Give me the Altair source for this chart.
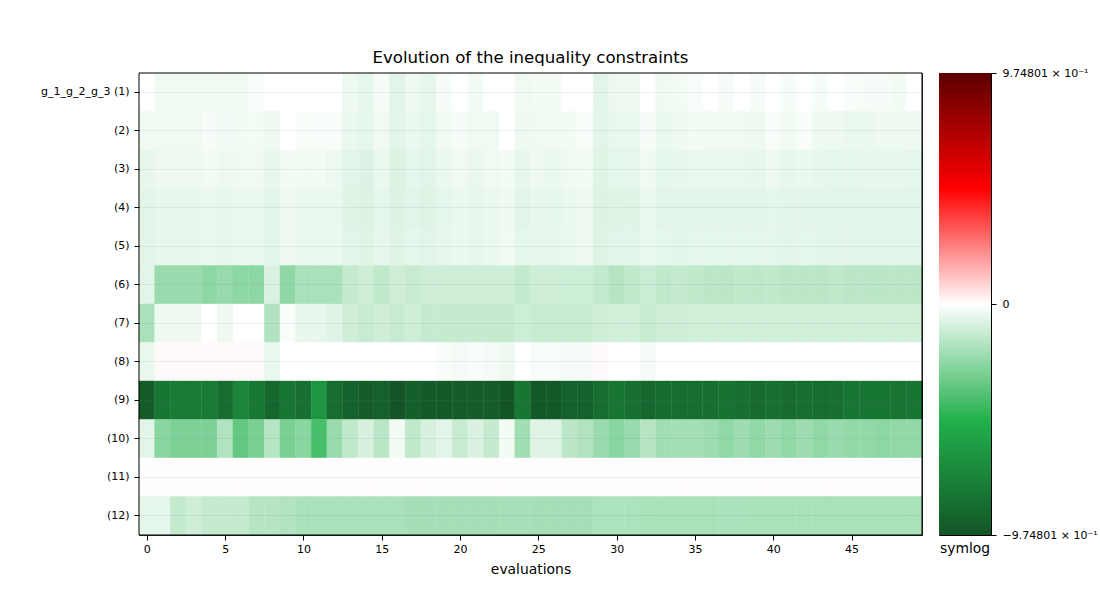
import altair as alt
import pandas as pd

ROW_LABELS = ["g_1_g_2_g_3 (1)", "(2)", "(3)", "(4)", "(5)", "(6)", "(7)", "(8)",
              "(9)", "(10)", "(11)", "(12)"]
EVALUATIONS = list(range(50))
X_TICKS = [0, 5, 10, 15, 20, 25, 30, 35, 40, 45]

ROW_1 = [0, -0.034, -0.034, -0.034, -0.034, -0.034, -0.034, -0.015, 0, 0,
         0, 0, 0, -0.038, -0.05, -0.02, -0.063, -0.038, -0.05, -0.02,
         0, -0.027, 0, 0, -0.034, -0.027, -0.027, 0, 0, -0.063,
         -0.04, -0.04, 0, -0.034, -0.027, -0.015, 0, -0.02, 0, -0.02,
         0, -0.02, 0, -0.02, 0, -0.015, -0.02, -0.02, -0.027, 0]
ROW_2 = [-0.034, -0.034, -0.034, -0.034, -0.02, -0.03, -0.027, -0.027, -0.038, 0,
         -0.015, -0.015, -0.015, -0.045, -0.057, -0.034, -0.063, -0.045, -0.057, -0.034,
         -0.02, -0.034, -0.034, 0, -0.038, -0.034, -0.034, -0.027, -0.015, -0.063,
         -0.048, -0.048, -0.02, -0.045, -0.038, -0.027, -0.034, -0.034, -0.034, -0.038,
         -0.015, -0.034, -0.015, -0.038, -0.038, -0.045, -0.045, -0.038, -0.038, -0.038]
ROW_3 = [-0.052, -0.038, -0.038, -0.038, -0.027, -0.038, -0.034, -0.034, -0.052, -0.027,
         -0.027, -0.027, -0.038, -0.063, -0.072, -0.045, -0.075, -0.057, -0.063, -0.045,
         -0.034, -0.048, -0.034, -0.027, -0.052, -0.038, -0.045, -0.034, -0.027, -0.07,
         -0.057, -0.057, -0.034, -0.057, -0.052, -0.045, -0.048, -0.045, -0.048, -0.052,
         -0.038, -0.052, -0.045, -0.052, -0.057, -0.057, -0.052, -0.052, -0.052, -0.057]
ROW_4 = [-0.063, -0.052, -0.052, -0.052, -0.045, -0.052, -0.045, -0.045, -0.063, -0.038,
         -0.045, -0.045, -0.045, -0.068, -0.075, -0.057, -0.075, -0.063, -0.068, -0.057,
         -0.045, -0.052, -0.045, -0.038, -0.063, -0.052, -0.057, -0.045, -0.038, -0.075,
         -0.068, -0.068, -0.048, -0.063, -0.063, -0.06, -0.06, -0.06, -0.06, -0.06,
         -0.057, -0.06, -0.06, -0.06, -0.063, -0.063, -0.06, -0.06, -0.06, -0.063]
ROW_5 = [-0.063, -0.052, -0.052, -0.052, -0.045, -0.052, -0.045, -0.045, -0.063, -0.038,
         -0.045, -0.045, -0.045, -0.063, -0.07, -0.052, -0.07, -0.057, -0.063, -0.052,
         -0.045, -0.052, -0.045, -0.034, -0.057, -0.052, -0.052, -0.045, -0.038, -0.07,
         -0.063, -0.063, -0.045, -0.057, -0.06, -0.057, -0.057, -0.057, -0.057, -0.057,
         -0.057, -0.06, -0.057, -0.06, -0.06, -0.06, -0.06, -0.06, -0.06, -0.063]
ROW_6 = [-0.063, -0.222, -0.222, -0.222, -0.251, -0.23, -0.251, -0.251, -0.079, -0.246,
         -0.188, -0.188, -0.188, -0.129, -0.106, -0.138, -0.106, -0.124, -0.109, -0.109,
         -0.109, -0.109, -0.109, -0.109, -0.133, -0.109, -0.109, -0.113, -0.113, -0.133,
         -0.161, -0.138, -0.118, -0.138, -0.129, -0.138, -0.149, -0.149, -0.138, -0.142,
         -0.138, -0.149, -0.149, -0.149, -0.138, -0.149, -0.149, -0.149, -0.149, -0.149]
ROW_7 = [-0.188, -0.038, -0.038, -0.038, 0, -0.038, 0, 0, -0.172, -0.015,
         -0.052, -0.052, -0.068, -0.106, -0.124, -0.106, -0.124, -0.109, -0.129, -0.129,
         -0.129, -0.129, -0.129, -0.129, -0.113, -0.124, -0.124, -0.124, -0.124, -0.106,
         -0.1, -0.1, -0.124, -0.109, -0.109, -0.1, -0.1, -0.1, -0.1, -0.1,
         -0.1, -0.1, -0.1, -0.1, -0.1, -0.1, -0.1, -0.1, -0.1, -0.1]
ROW_8 = [-0.048, 0.012, 0.012, 0.012, 0.012, 0.012, 0.012, 0.012, -0.048, 0,
         0, 0, 0, 0, 0, 0, 0, 0, 0, -0.015,
         -0.022, -0.015, -0.022, -0.036, 0, -0.015, -0.015, -0.022, -0.022, 0.01,
         0, 0, -0.022, 0, 0, 0, 0, 0, 0, 0,
         0, 0, 0, 0, 0, 0, 0, 0, 0, 0]
ROW_9 = [-0.93, -0.8, -0.78, -0.78, -0.78, -0.85, -0.72, -0.79, -0.88, -0.8,
         -0.83, -0.63, -0.85, -0.9, -0.93, -0.91, -0.99, -0.92, -0.95, -0.95,
         -0.93, -0.94, -0.93, -0.97, -0.8, -0.96, -0.96, -0.91, -0.91, -0.85,
         -0.8, -0.83, -0.88, -0.85, -0.85, -0.85, -0.84, -0.82, -0.84, -0.86,
         -0.83, -0.86, -0.84, -0.85, -0.83, -0.8, -0.8, -0.8, -0.81, -0.8]
ROW_10 = [-0.063, -0.258, -0.287, -0.287, -0.287, -0.172, -0.344, -0.294, -0.161, -0.294,
          -0.258, -0.405, -0.222, -0.138, -0.088, -0.152, -0.027, -0.138, -0.088, -0.063,
          -0.124, -0.079, -0.129, -0.027, -0.208, -0.068, -0.068, -0.149, -0.172, -0.222,
          -0.258, -0.23, -0.161, -0.208, -0.2, -0.2, -0.215, -0.244, -0.215, -0.244,
          -0.217, -0.24, -0.215, -0.244, -0.226, -0.24, -0.24, -0.251, -0.24, -0.24]
ROW_11 = [0.004] * 50
ROW_12 = [-0.057, -0.057, -0.133, -0.109, -0.129, -0.129, -0.129, -0.161, -0.161, -0.172,
          -0.188, -0.188, -0.188, -0.188, -0.188, -0.188, -0.188, -0.197, -0.197, -0.197,
          -0.197, -0.197, -0.197, -0.193, -0.193, -0.197, -0.197, -0.197, -0.197, -0.183,
          -0.183, -0.183, -0.19, -0.19, -0.19, -0.19, -0.19, -0.186, -0.186, -0.19,
          -0.19, -0.19, -0.19, -0.19, -0.19, -0.19, -0.19, -0.19, -0.19, -0.19]

ROWS = [ROW_1, ROW_2, ROW_3, ROW_4, ROW_5, ROW_6, ROW_7, ROW_8, ROW_9, ROW_10, ROW_11, ROW_12]

VMAX = 0.974801
DOMAIN = [-VMAX, -VMAX / 2, 0, VMAX / 2, VMAX]
COLORS = ["#135526", "#22b14c", "#ffffff", "#ff0000", "#5c0000"]
X_EXTENT = [-0.5, 49.5]

records = []
for label, vals in zip(ROW_LABELS, ROWS):
    for e, v in zip(EVALUATIONS, vals):
        records.append({"constraint": label, "evaluation": e, "value": v})
df = pd.DataFrame(records)

FONT = "DejaVu Sans"
color_scale = alt.Scale(domain=DOMAIN, range=COLORS, interpolate="rgb", clamp=True)
x_scale = alt.Scale(domain=X_EXTENT, nice=False, zero=False)

cells = (
    alt.Chart(df)
    .transform_calculate(x0="datum.evaluation - 0.5", x1="datum.evaluation + 0.5")
    .mark_rect(strokeWidth=0.4)
    .encode(
        x=alt.X("x0:Q", scale=x_scale,
                axis=alt.Axis(values=X_TICKS, title="evaluations", grid=False,
                              labelPadding=3, titlePadding=8, titleFontSize=13.9)),
        x2="x1:Q",
        y=alt.Y("constraint:N", sort=ROW_LABELS,
                scale=alt.Scale(paddingInner=0, paddingOuter=0),
                axis=alt.Axis(title=None, grid=True, bandPosition=0.5,
                              gridColor="#5f7f99", gridOpacity=0.12, gridWidth=1,
                              labelPadding=5, zindex=1)),
        color=alt.Color("value:Q", scale=color_scale, legend=None),
        stroke=alt.Stroke("value:Q", scale=color_scale, legend=None),
        tooltip=["constraint:N", "evaluation:Q", "value:Q"],
    )
)

frame = (
    alt.Chart(pd.DataFrame({"lo": [X_EXTENT[0]], "hi": [X_EXTENT[1]]}))
    .mark_rect(filled=False, stroke="black", strokeWidth=1)
    .encode(x=alt.X("lo:Q", scale=x_scale), x2="hi:Q")
)

heat = alt.layer(cells, frame).properties(
    width=783, height=462,
    title=alt.TitleParams("Evolution of the inequality constraints",
                          fontSize=16.6, fontWeight="normal", offset=6,
                          anchor="middle", color="black", font=FONT),
)

cbar_df = pd.DataFrame({"lo": [DOMAIN[0]], "hi": [DOMAIN[-1]]})
gradient = alt.LinearGradient(
    gradient="linear",
    stops=[alt.GradientStop(offset=(d - DOMAIN[0]) / (DOMAIN[-1] - DOMAIN[0]), color=c)
           for d, c in zip(DOMAIN, COLORS)],
    x1=0, x2=0, y1=1, y2=0,
)
label_expr = ("datum.value > 0 ? '9.74801 × 10⁻¹' : "
              "(datum.value < 0 ? '−9.74801 × 10⁻¹' : '0')")
cbar = (
    alt.Chart(cbar_df)
    .mark_rect(fill=gradient)
    .encode(
        y=alt.Y("lo:Q",
                scale=alt.Scale(domain=[DOMAIN[0], DOMAIN[-1]], nice=False, zero=False),
                axis=alt.Axis(orient="right", values=[DOMAIN[0], 0, DOMAIN[-1]],
                              labelExpr=label_expr, title=None, grid=False,
                              labelPadding=6)),
        y2="hi:Q",
    )
    .properties(
        width=52, height=462,
        title=alt.TitleParams("symlog", orient="bottom", fontSize=13.9,
                              fontWeight="normal", offset=2, anchor="middle",
                              color="black", font=FONT),
    )
)

chart = (
    alt.hconcat(heat, cbar, spacing=17, bounds="flush")
    .configure(font=FONT, padding={"left": 39, "top": 49, "right": 0, "bottom": 0},
               background="white")
    .configure_view(stroke="black", strokeWidth=1)
    .configure_axis(labelFont=FONT, labelFontSize=11, labelColor="black",
                    tickColor="black", tickSize=5, tickWidth=1, domain=False,
                    titleFont=FONT, titleFontWeight="normal", titleColor="black")
)

chart.save("out.html", embed_options={"renderer": "svg", "actions": False})
